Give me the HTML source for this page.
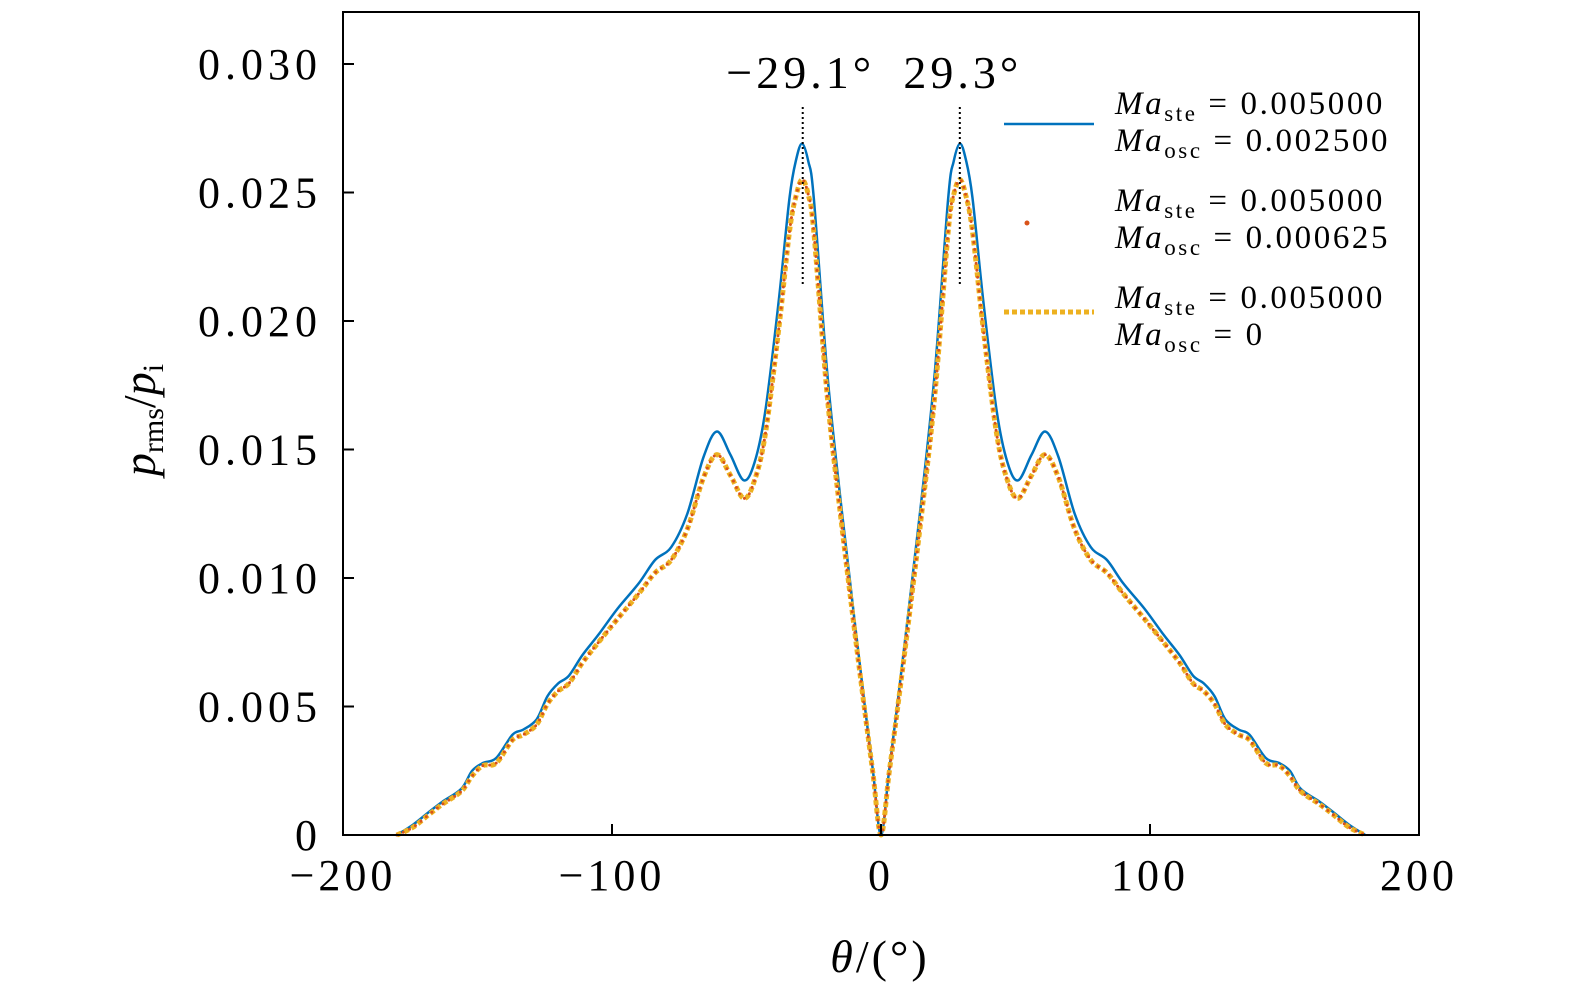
<!DOCTYPE html>
<html><head><meta charset="utf-8"><style>
html,body{margin:0;background:#fff;overflow:hidden}
svg{display:block}
svg text{font-family:"Liberation Serif","DejaVu Serif",serif;fill:#000}
</style></head><body>
<svg id="chart" width="1575" height="994" xmlns="http://www.w3.org/2000/svg">
<g id="plot"></g>
</svg>
<script>
const thetaR=[0,3,6,10,15,20,25,27,29.3,31.5,34,38,43,47,51,56,61,66,72,78,84,90,98,105,111,116,120,124,128,133,137,143,148,152,156,163,168,174,180];
const blueR=[0,0.0025,0.005,0.0085,0.013,0.018,0.0248,0.0262,0.0269,0.0263,0.0248,0.0208,0.0165,0.0145,0.0138,0.0148,0.0157,0.0147,0.0125,0.0112,0.0107,0.0098,0.0088,0.0078,0.0070,0.0062,0.0059,0.0054,0.0045,0.0041,0.0039,0.0030,0.0028,0.0025,0.0018,0.0013,0.0009,0.0004,0];
const orangeR=[0,0.0024,0.0048,0.0081,0.0124,0.0171,0.0235,0.0249,0.0255,0.0249,0.0235,0.0197,0.0156,0.0138,0.0131,0.0140,0.0148,0.0139,0.0119,0.0107,0.0102,0.0094,0.0084,0.0075,0.0067,0.0059,0.0056,0.0051,0.0043,0.0039,0.0037,0.0028,0.0027,0.0023,0.0017,0.0012,0.0008,0.0003,0];
const xTicks=[-200,-100,0,100,200];
const xTickLabels=["\u2212200","\u2212100","0","100","200"];
const yTicks=[0,0.005,0.01,0.015,0.02,0.025,0.03];
const yTickLabels=["0","0.005","0.010","0.015","0.020","0.025","0.030"];
const peakAngles=[-29.1,29.3];
const peakLabels=["\u221229.1\u00b0","29.3\u00b0"];

const L=343,R=1419,T=12,B=835;
const xs=v=>L+(v+200)/400*(R-L);
const ys=v=>B-v/0.03*(B-64);
const NS="http://www.w3.org/2000/svg";
const g=document.getElementById('plot');
function mk(t,a,p){const e=document.createElementNS(NS,t);for(const k in a)e.setAttribute(k,a[k]);(p||g).appendChild(e);return e;}
function full(th,vals){const t=[],v=[];for(let i=th.length-1;i>0;i--){t.push(-th[i]);v.push(vals[i]);}for(let i=0;i<th.length;i++){t.push(th[i]);v.push(vals[i]);}return [t,v];}
function path(th,vals){const [t,v]=full(th,vals);const P=t.map((a,i)=>[xs(a),ys(v[i])]);let d="M"+P[0][0]+","+P[0][1];for(let i=0;i<P.length-1;i++){const p0=P[Math.max(0,i-1)],p1=P[i],p2=P[i+1],p3=P[Math.min(P.length-1,i+2)];d+=" C"+(p1[0]+(p2[0]-p0[0])/6)+","+(p1[1]+(p2[1]-p0[1])/6)+" "+(p2[0]-(p3[0]-p1[0])/6)+","+(p2[1]-(p3[1]-p1[1])/6)+" "+p2[0]+","+p2[1];}return d;}

let e;
e=mk('path',{d:path(thetaR,blueR),fill:'none',stroke:'#0072bd','stroke-width':2.5});

e=mk('path',{d:path(thetaR,orangeR),fill:'none',stroke:'#edb120','stroke-width':5,'stroke-dasharray':'5 3'});

e=mk('path',{d:path(thetaR,orangeR),fill:'none',stroke:'#d95319','stroke-width':3,'stroke-dasharray':'0 7','stroke-linecap':'round'});


peakAngles.forEach((a,i)=>{
 const ln=mk('line',{x1:xs(a),x2:xs(a),y1:107,y2:287,stroke:'#000','stroke-width':2,'stroke-dasharray':'2 3'});
 
 const tx=mk('text',{x:xs(a)+(i?3:-2),y:88,'font-size':46,'letter-spacing':4,'text-anchor':'middle'});tx.textContent=peakLabels[i];
 
});

e=mk('rect',{x:L,y:T,width:R-L,height:B-T,fill:'none',stroke:'#000','stroke-width':2});

xTicks.forEach((v,i)=>{
 const t=mk('line',{x1:xs(v),x2:xs(v),y1:B,y2:B-11,stroke:'#000','stroke-width':2});
 
 const tx=mk('text',{x:xs(v),y:890,'font-size':44,'letter-spacing':4,'text-anchor':'middle'});tx.textContent=xTickLabels[i];
 
});
yTicks.forEach((v,i)=>{
 const t=mk('line',{x1:L,x2:L+11,y1:ys(v),y2:ys(v),stroke:'#000','stroke-width':2});
 
 const tx=mk('text',{x:322,y:ys(v)+15,'font-size':44,'letter-spacing':5,'text-anchor':'end'});tx.textContent=yTickLabels[i];
 
});
e=mk('text',{x:880,y:972,'font-size':46,'text-anchor':'middle','letter-spacing':3});
e.innerHTML='<tspan font-style="italic">θ</tspan>/(°)';

e=mk('text',{x:0,y:0,'font-size':46,'text-anchor':'middle',transform:'translate(155,420) rotate(-90)'});
e.innerHTML='<tspan font-style="italic">p</tspan><tspan font-size="30" dy="8">rms</tspan><tspan dy="-8">/</tspan><tspan font-style="italic">p</tspan><tspan font-size="30" dy="8">i</tspan>';


const legVals=[["0.005000","0.002500"],["0.005000","0.000625"],["0.005000","0"]];
legVals.forEach((lv,i)=>{
 const y0=114+i*97;
 const lg=mk('g',{});
 if(i==0)mk('line',{x1:1004,x2:1094,y1:y0+10,y2:y0+10,stroke:'#0072bd','stroke-width':2.5},lg);
 if(i==1)mk('circle',{cx:1027,cy:y0+12,r:2.5,fill:'#d95319'},lg);
 if(i==2)mk('line',{x1:1004,x2:1094,y1:y0+4,y2:y0+4,stroke:'#edb120','stroke-width':5,'stroke-dasharray':'5 3'},lg);
 [["ste",lv[0]],["osc",lv[1]]].forEach((s,j)=>{
  const t=mk('text',{x:1115,y:y0+j*37,'font-size':33,'letter-spacing':2.6},lg);
  t.innerHTML='<tspan font-style="italic">Ma</tspan><tspan font-size="23" dy="7">'+s[0]+'</tspan><tspan dy="-7"> = '+s[1]+'</tspan>';
 });
});
</script>
</body></html>
